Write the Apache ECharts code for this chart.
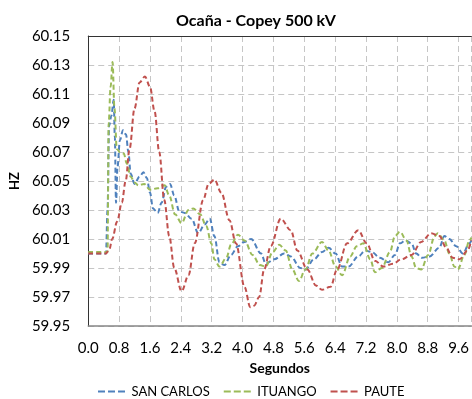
<!DOCTYPE html>
<html>
<head>
<meta charset="utf-8">
<script src="https://cdn.jsdelivr.net/npm/echarts@6/dist/echarts.min.js"></script>
<style>
  html, body { margin: 0; padding: 0; background: #fff; }
  #chart { width: 472px; height: 399px; }
</style>
</head>
<body>
<div id="chart"></div>
<script>
// Frequency response (Hz) after the Ocaña - Copey 500 kV event
const sanCarlosT = [0, 0.46, 0.5, 0.54, 0.6, 0.66, 0.69, 0.72, 0.76, 0.82, 0.9, 0.98, 1.04, 1.1, 1.2, 1.33, 1.43, 1.52, 1.6, 1.68, 1.8, 1.9, 2.02, 2.12, 2.23, 2.36, 2.5, 2.68, 2.85, 3.02, 3.15, 3.27, 3.4, 3.53, 3.7, 3.88, 4.05, 4.22, 4.48, 4.6, 4.82, 5.08, 5.25, 5.5, 5.63, 5.85, 6.06, 6.23, 6.41, 6.58, 6.75, 7.0, 7.18, 7.35, 7.56, 7.78, 7.95, 8.08, 8.22, 8.38, 8.5, 8.65, 8.85, 9.1, 9.23, 9.36, 9.54, 9.71, 9.88, 9.93];
const sanCarlosHz = [60.000, 60.000, 60.030, 60.088, 60.095, 60.106, 60.080, 60.035, 60.060, 60.078, 60.085, 60.082, 60.070, 60.055, 60.048, 60.053, 60.056, 60.052, 60.042, 60.031, 60.028, 60.035, 60.046, 60.048, 60.040, 60.029, 60.028, 60.024, 60.014, 60.020, 60.024, 60.012, 59.994, 59.992, 59.999, 60.005, 60.008, 60.010, 60.000, 59.993, 59.996, 60.000, 59.998, 59.990, 59.989, 59.996, 60.001, 60.004, 60.000, 59.991, 59.991, 59.998, 60.002, 60.001, 59.997, 59.994, 59.999, 60.007, 60.009, 60.007, 60.000, 59.997, 59.998, 60.004, 60.012, 60.010, 60.005, 60.000, 60.007, 60.009];

const ituangoT = [0, 0.5, 0.53, 0.58, 0.63, 0.68, 0.74, 0.82, 0.92, 1.0, 1.1, 1.2, 1.3, 1.45, 1.6, 1.8, 1.98, 2.1, 2.25, 2.42, 2.6, 2.72, 2.9, 3.06, 3.19, 3.27, 3.4, 3.58, 3.7, 3.88, 4.05, 4.26, 4.45, 4.6, 4.78, 4.95, 5.12, 5.29, 5.46, 5.63, 5.81, 6.06, 6.23, 6.41, 6.58, 6.79, 6.96, 7.13, 7.31, 7.43, 7.61, 7.82, 7.95, 8.08, 8.25, 8.38, 8.5, 8.63, 8.81, 8.98, 9.06, 9.23, 9.36, 9.49, 9.58, 9.75, 9.88, 9.93];
const ituangoHz = [60.001, 60.001, 60.090, 60.115, 60.132, 60.100, 60.072, 60.070, 60.069, 60.062, 60.053, 60.049, 60.047, 60.048, 60.044, 60.045, 60.047, 60.040, 60.027, 60.021, 60.030, 60.031, 60.027, 60.019, 60.007, 59.996, 59.991, 59.997, 60.006, 60.013, 60.009, 59.999, 59.992, 59.991, 60.001, 60.006, 60.002, 59.989, 59.981, 59.989, 60.000, 60.008, 60.002, 59.991, 59.985, 59.998, 60.005, 60.007, 59.996, 59.987, 59.990, 60.001, 60.012, 60.015, 60.009, 59.998, 59.990, 59.989, 59.999, 60.012, 60.014, 60.009, 60.000, 59.991, 59.989, 59.999, 60.009, 60.011];

const pauteT = [0, 0.46, 0.55, 0.62, 0.75, 0.87, 0.97, 1.07, 1.2, 1.33, 1.47, 1.6, 1.72, 1.84, 1.97, 2.1, 2.23, 2.42, 2.6, 2.76, 2.98, 3.12, 3.27, 3.45, 3.66, 3.83, 4.05, 4.2, 4.3, 4.43, 4.56, 4.73, 4.99, 5.25, 5.42, 5.68, 5.9, 6.06, 6.28, 6.45, 6.71, 7.0, 7.22, 7.43, 7.65, 7.9, 8.12, 8.38, 8.63, 8.89, 9.1, 9.28, 9.45, 9.62, 9.83, 9.93];
const pauteHz = [60.000, 60.000, 60.003, 60.010, 60.022, 60.035, 60.050, 60.072, 60.100, 60.118, 60.122, 60.115, 60.098, 60.070, 60.037, 60.012, 59.990, 59.974, 59.985, 60.007, 60.037, 60.048, 60.051, 60.042, 60.023, 60.007, 59.977, 59.963, 59.964, 59.970, 59.989, 60.005, 60.024, 60.016, 60.002, 59.989, 59.978, 59.975, 59.977, 59.989, 60.007, 60.016, 60.007, 59.995, 59.991, 59.993, 59.996, 59.999, 60.008, 60.014, 60.012, 60.004, 59.997, 59.996, 60.002, 60.009];

const seriesNames = ['SAN CARLOS', 'ITUANGO', 'PAUTE'];
const seriesColors = ['#4F81BD', '#9BBB59', '#C0504D'];

const xMin = 0, xMax = 9.93, xStep = 0.8;
const yMin = 59.95, yMax = 60.15, yStep = 0.02;

const pair = (ts, vs) => ts.map((t, i) => [t, vs[i]]);
const seriesData = [pair(sanCarlosT, sanCarlosHz), pair(ituangoT, ituangoHz), pair(pauteT, pauteHz)];

const font = 'Lato, "Open Sans", sans-serif';
const gridDash = { color: '#c6c6c6', width: 1, type: [6, 4] };
// dashed-line legend key
const dashIcon = 'path://M0,0h7v2h-7z M10,0h7v2h-7z M20,0h7v2h-7z';

const chart = echarts.init(document.getElementById('chart'), null, { renderer: 'canvas' });
chart.setOption({
  animation: false,
  backgroundColor: '#ffffff',
  textStyle: { fontFamily: font },
  title: {
    text: 'Ocaña - Copey 500 kV',
    left: 171, top: 8,
    textStyle: { fontFamily: font, fontWeight: 'bold', fontSize: 16, color: '#000' }
  },
  grid: { left: 86, top: 36, width: 386, height: 290, containLabel: false },
  legend: {
    data: seriesNames.map(n => ({ name: n, icon: dashIcon })),
    left: 93, top: 380,
    itemWidth: 30, itemHeight: 2, itemGap: 14,
    textStyle: { fontFamily: font, fontSize: 13, color: '#000' }
  },
  xAxis: [{
    type: 'value', min: xMin, max: xMax, interval: xStep,
    name: 'Segundos', nameLocation: 'middle', nameGap: 35,
    nameTextStyle: { fontFamily: font, fontWeight: 'bold', fontSize: 14, color: '#000' },
    axisLine: { show: true, onZero: false, lineStyle: { color: '#868686', width: 1.5 } },
    axisTick: { show: false },
    axisLabel: { margin: 15, fontFamily: font, fontSize: 15, color: '#000', showMaxLabel: false,
      formatter: v => v.toFixed(1) },
    splitLine: { show: true, lineStyle: gridDash }
  }, {
    // plot-area top border
    type: 'value', position: 'top', min: xMin, max: xMax,
    axisLine: { show: true, lineStyle: { color: '#333', width: 1 } },
    axisTick: { show: false }, axisLabel: { show: false }, splitLine: { show: false }
  }],
  yAxis: {
    type: 'value', min: yMin, max: yMax, interval: yStep,
    name: 'HZ', nameLocation: 'middle', nameGap: 60, nameRotate: 90,
    nameTextStyle: { fontFamily: font, fontWeight: 'bold', fontSize: 13, color: '#000' },
    axisLine: { show: true, lineStyle: { color: '#333', width: 1 } },
    axisTick: { show: false },
    axisLabel: { margin: 18, fontFamily: font, fontSize: 15, color: '#000',
      formatter: v => v.toFixed(2) },
    splitLine: { show: true, lineStyle: gridDash }
  },
  series: seriesData.map((d, i) => ({
    name: seriesNames[i],
    type: 'line',
    xAxisIndex: 0,
    data: d,
    symbol: 'none',
    smooth: 0.35,
    smoothMonotone: 'x',
    color: seriesColors[i],
    lineStyle: { color: seriesColors[i], width: 2, type: [5, 3] },
    z: 3 + i
  }))
});
</script>
</body>
</html>
